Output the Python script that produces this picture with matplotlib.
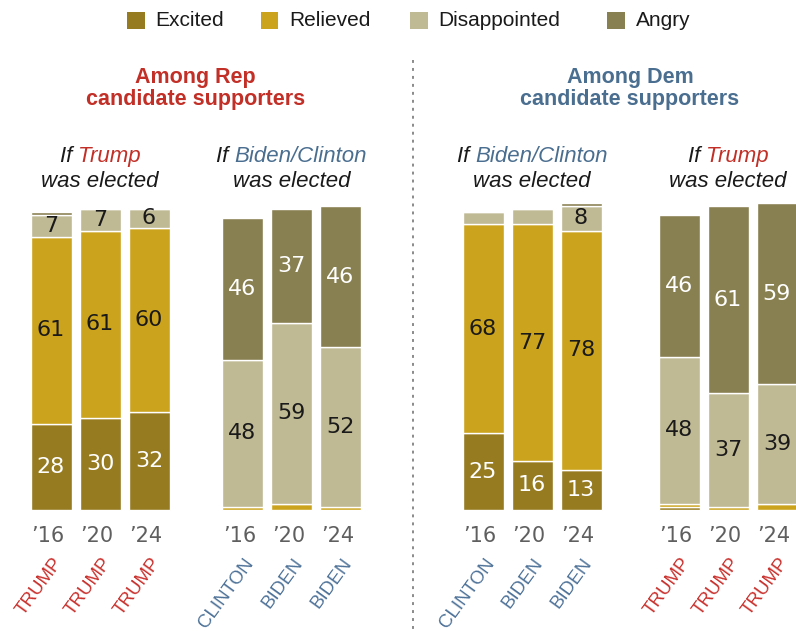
import matplotlib
matplotlib.use("Agg")
import matplotlib.pyplot as plt
from matplotlib.lines import Line2D
from matplotlib.patches import Rectangle
from matplotlib.transforms import Affine2D

# ---- data -------------------------------------------------------------
emotions = ["Excited", "Relieved", "Disappointed", "Angry"]
years = ["\u201916", "\u201920", "\u201924"]

# one row per panel: Rep if Trump, Rep if Biden/Clinton,
# Dem if Biden/Clinton, Dem if Trump
excited = [[28, 30, 32], [0, 0, 0], [25, 16, 13], [1, 0, 0]]
relieved = [[61, 61, 60], [1, 2, 1], [68, 77, 78], [1, 1, 2]]
disappointed = [[7, 7, 6], [48, 59, 52], [4, 5, 8], [48, 37, 39]]
angry = [[1, 0, 0], [46, 37, 46], [0, 0, 1], [46, 61, 59]]

winners = [["TRUMP", "TRUMP", "TRUMP"],
           ["CLINTON", "BIDEN", "BIDEN"],
           ["CLINTON", "BIDEN", "BIDEN"],
           ["TRUMP", "TRUMP", "TRUMP"]]
winner_party = ["R", "D", "D", "R"]

group_titles = [("Among Rep", "candidate supporters"),
                ("Among Dem", "candidate supporters")]
scenario_names = ["Trump", "Biden/Clinton", "Biden/Clinton", "Trump"]
scenario_party = ["R", "D", "D", "R"]

# ---- style ------------------------------------------------------------
W, H = 796, 631
colors = ["#967B21", "#CCA31C", "#BFB994", "#888050"]
label_colors = ["white", "#1a1a1a", "#1a1a1a", "white"]
red, blue = "#C22F27", "#4A6E90"
red_lbl, blue_lbl = "#C9302C", "#4E7298"
party_color = {"R": red, "D": blue}
party_lbl = {"R": red_lbl, "D": blue_lbl}
SANS = "Liberation Sans"
NUM = "DejaVu Sans"

fig = plt.figure(figsize=(W / 100, H / 100), dpi=100)
fig.patch.set_facecolor("white")
# pixel transform measured from the top-left corner
px = Affine2D().scale(1, -1).translate(0, H)

base_y, full_h = 510, 307
ax = fig.add_axes([0, (H - base_y) / H, 1, full_h / H])
ax.set_xlim(0, W)
ax.set_ylim(0, 100)
ax.axis("off")

group_centers = [100, 291.5, 532, 728]
pitch, bar_w = 49, 41

series = [excited, relieved, disappointed, angry]
for g, gc in enumerate(group_centers):
    xs = [gc + (i - 1) * pitch for i in range(3)]
    bottoms = [0, 0, 0]
    for s, data in enumerate(series):
        vals = data[g]
        ax.bar(xs, vals, width=bar_w, bottom=bottoms, color=colors[s],
               edgecolor="white", linewidth=1, clip_on=False)
        for x, v, b in zip(xs, vals, bottoms):
            if v >= 6:
                ax.text(x, b + v / 2, str(v), ha="center", va="center",
                        fontsize=16, family=NUM, color=label_colors[s])
        bottoms = [b + v for b, v in zip(bottoms, vals)]

    # year and winner labels under each bar
    for i, x in enumerate(xs):
        fig.text(x - 3, 542, years[i], transform=px, ha="center",
                 va="baseline", fontsize=15, family=NUM, color="#5f5f5f")
        fig.text(x + 8, 560, winners[g][i], transform=px, ha="right",
                 va="center", rotation=54, rotation_mode="anchor",
                 fontsize=13.5, family=SANS, color=party_lbl[winner_party[g]])

# ---- headers ----------------------------------------------------------
header_x = [(group_centers[0] + group_centers[1]) / 2,
            (group_centers[2] + group_centers[3]) / 2]
for (l1, l2), hx, c in zip(group_titles, header_x, [red, blue]):
    fig.text(hx, 82.5, l1, transform=px, ha="center", va="baseline",
             fontsize=15.5, family=SANS, weight="bold", color=c)
    fig.text(hx, 105, l2, transform=px, ha="center", va="baseline",
             fontsize=15.5, family=SANS, weight="bold", color=c)

renderer = fig.canvas.get_renderer()


def centered_runs(xc, y, runs, **kw):
    arts = [fig.text(0, y, s, transform=px, va="baseline", **kw, color=c)
            for s, c in runs]
    widths = [a.get_window_extent(renderer).width for a in arts]
    x = xc - sum(widths) / 2
    for a, w in zip(arts, widths):
        a.set_x(x)
        x += w


for gc, name, party in zip(group_centers, scenario_names, scenario_party):
    centered_runs(gc, 162, [("If ", "#1a1a1a"), (name, party_color[party])],
                  fontsize=16, family=SANS, style="italic")
    fig.text(gc, 187, "was elected", transform=px, ha="center",
             va="baseline", fontsize=16, family=SANS, style="italic",
             color="#1a1a1a")

# dotted divider between the two halves
fig.add_artist(Line2D([413, 413], [60, H], transform=px, color="#8a8a8a",
                      linewidth=1.4, dashes=(1.5, 2.6)))

# ---- legend -----------------------------------------------------------
legend_x = [127, 260.5, 410, 607]
for lx, name, c in zip(legend_x, emotions, colors):
    fig.add_artist(Rectangle((lx, 11.7), 17.5, 17.5, transform=px,
                             facecolor=c, edgecolor="none"))
    fig.text(lx + 28.5, 20.5, name, transform=px, ha="left", va="center",
             fontsize=15, family=SANS, color="#1a1a1a")

fig.savefig("out.png", dpi=100, facecolor="white")
